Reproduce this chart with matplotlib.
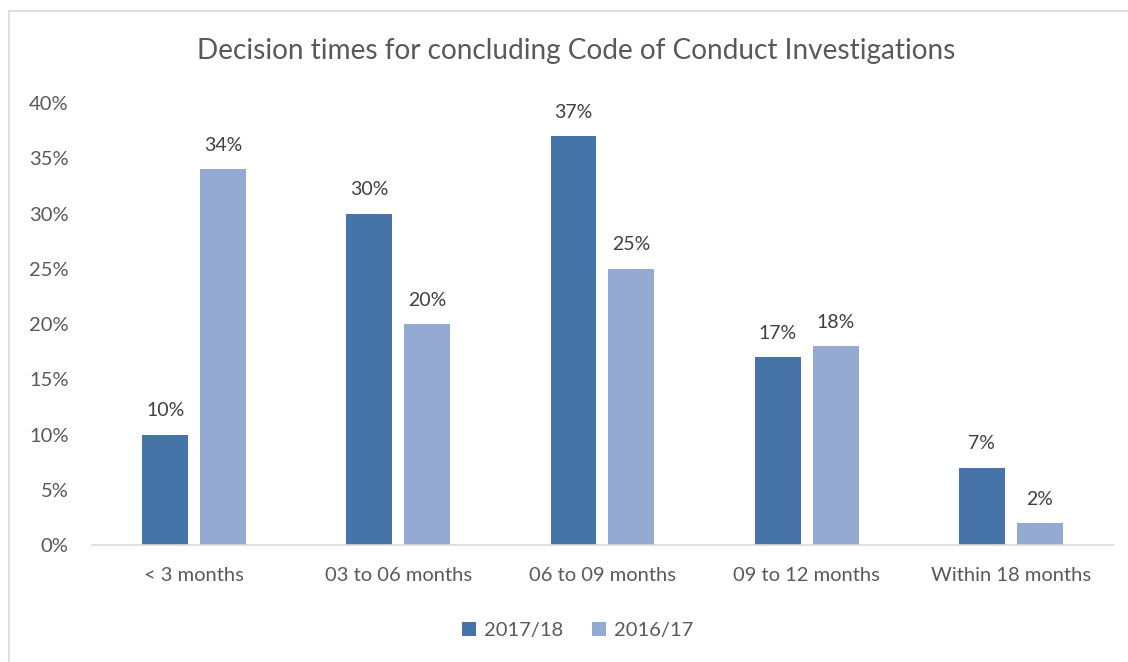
import numpy as np
import matplotlib.pyplot as plt
from matplotlib.lines import Line2D

# Data
categories = ["< 3 months", "03 to 06 months", "06 to 09 months", "09 to 12 months", "Within 18 months"]
values_2017 = [10, 30, 37, 17, 7]
values_2016 = [34, 20, 25, 18, 2]
series_labels = ["2017/18", "2016/17"]
y_ticks = [0, 5, 10, 15, 20, 25, 30, 35, 40]

plt.rcParams['font.family'] = ['Lato', 'DejaVu Sans']
text_color = "#595959"
dark_blue = "#4674A9"
light_blue = "#95AAD2"

fig = plt.figure(figsize=(11.28, 6.62), dpi=100)
ax = fig.add_axes([0.0816, 0.1767, 0.905, 0.6677])

x = np.arange(len(categories))
bar_width = 0.225
offset = 0.142

bars1 = ax.bar(x - offset, values_2017, width=bar_width, color=dark_blue, label=series_labels[0])
bars2 = ax.bar(x + offset, values_2016, width=bar_width, color=light_blue, label=series_labels[1])

# Подписи значений
for bars in (bars1, bars2):
    for b in bars:
        ax.annotate(f"{int(b.get_height())}%", (b.get_x() + b.get_width() / 2, b.get_height()),
                    xytext=(0, 11), textcoords="offset points", ha="center", va="bottom",
                    fontsize=14, color="#404040")

ax.set_xlim(-0.5, len(categories) - 0.5)
ax.set_ylim(0, 40)
ax.set_yticks(y_ticks)
ax.set_yticklabels([f"{t}%" for t in y_ticks])
ax.set_xticks(x)
ax.set_xticklabels(categories)
ax.tick_params(axis="both", length=0, labelsize=14.5, labelcolor=text_color)
ax.tick_params(axis="y", pad=17)
ax.tick_params(axis="x", pad=16)

for s in ["top", "right", "left"]:
    ax.spines[s].set_visible(False)
ax.spines["bottom"].set_color("#D9D9D9")
ax.spines["bottom"].set_linewidth(1.2)

fig.text(0.511, 0.923, "Decision times for concluding Code of Conduct Investigations",
         ha="center", va="center", fontsize=20.2, color=text_color)

fig.legend(handles=[bars1, bars2], labels=series_labels, loc="center", bbox_to_anchor=(0.512, 0.048),
           ncol=2, frameon=False, fontsize=14.5, handlelength=0.7, handleheight=0.7,
           handletextpad=0.4, columnspacing=1.4, labelcolor=text_color)

# Рамка вокруг графика
fig.add_artist(Line2D([9 / 1128, 9 / 1128], [0, 1 - 11 / 662], color="#D9D9D9", lw=1.2))
fig.add_artist(Line2D([9 / 1128, 1], [1 - 11 / 662, 1 - 11 / 662], color="#D9D9D9", lw=1.2))

fig.savefig("out.png", dpi=100)
